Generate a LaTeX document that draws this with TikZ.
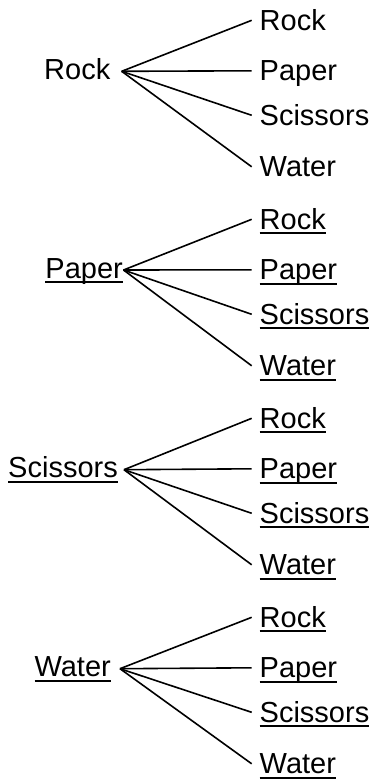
\documentclass[tikz,border=0pt]{standalone}
\usepackage{fontspec}
\setmainfont{Liberation Sans}
\newcommand\ulword[1]{\setbox0=\hbox{#1}\rlap{\rule[-5.3pt]{\wd0}{2pt}}\box0}
\begin{document}
\begin{tikzpicture}[x=1pt,y=-1pt,
  lbl/.style={inner sep=0pt, font=\fontsize{29}{34}\selectfont, text height=21pt, text depth=0pt},
  edge/.style={line width=1.6pt, black}]
\useasboundingbox (0,0) rectangle (372,780);
% roots
\node[lbl, anchor=base east] (r0) at (110.5,79.3) {Rock};
\node[lbl, anchor=base east] (r1) at (123,278) {\ulword{Paper}};
\node[lbl, anchor=base east] (r2) at (118,477.7) {\ulword{Scissors}};
\node[lbl, anchor=base east] (r3) at (111,676.7) {\ulword{Water}};
% children and connectors
\foreach \k/\g in {0/11.2,1/0.5,2/6,3/9} {
  \pgfmathsetmacro\off{199*\k}
  \foreach \j/\w/\b in {1/Rock/30,2/Paper/80.5,3/Scissors/125,4/Water/176.5} {
    \node[lbl, anchor=base west] (c\k\j) at (259.5,\b+\off) {\ifnum\k=0 \w\else\ulword{\w}\fi};
    \draw[edge] ([xshift=\g pt, yshift=8pt]r\k.base east) -- ([xshift=-7.8pt, yshift=-0.8pt]c\k\j.west);
  }
}
\end{tikzpicture}
\end{document}
